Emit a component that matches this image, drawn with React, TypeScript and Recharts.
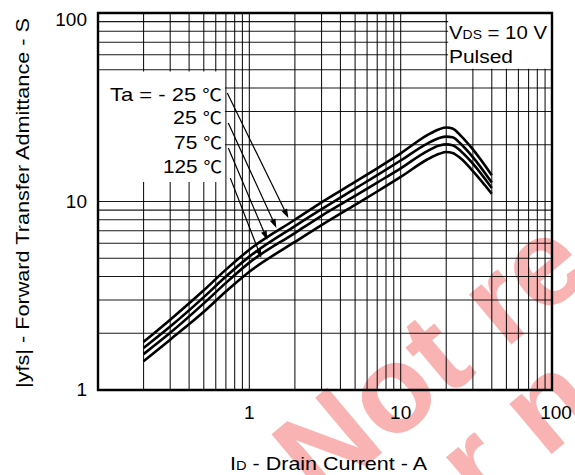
import React from 'react';
import {
  LineChart,
  Line,
  XAxis,
  YAxis,
  CartesianGrid,
  ReferenceArea,
  ReferenceLine,
} from 'recharts';

// drain current (A) sample points
const currentA = [0.2, 0.3, 0.5, 0.7, 1, 2, 3, 5, 7, 10, 15, 18, 20, 22, 25, 30, 40];

// |yfs| (S) per ambient temperature
const yfsM25 = [1.8, 2.36, 3.38, 4.35, 5.55, 8.0, 9.9, 12.7, 15.0, 18.0, 22.5, 24.2, 24.7, 24.4, 22.3, 18.9, 13.8];
const yfs25 = [1.67, 2.17, 3.11, 4.0, 5.1, 7.4, 9.1, 11.7, 13.8, 16.5, 20.3, 21.7, 22.1, 21.9, 20.2, 17.2, 12.6];
const yfs75 = [1.55, 2.01, 2.88, 3.7, 4.74, 6.8, 8.4, 10.7, 12.6, 15.0, 18.5, 19.8, 20.1, 19.9, 18.5, 15.9, 11.8];
const yfs125 = [1.42, 1.85, 2.6, 3.33, 4.24, 6.1, 7.5, 9.6, 11.3, 13.5, 16.7, 17.9, 18.3, 18.1, 16.9, 14.5, 11.0];

const xTicks = [
  0.1, 0.2, 0.3, 0.4, 0.5, 0.6, 0.7, 0.8, 0.9,
  1, 2, 3, 4, 5, 6, 7, 8, 9,
  10, 20, 30, 40, 50, 60, 70, 80, 90, 100,
];
const yTicks = [
  1, 2, 3, 4, 5, 6, 7, 8, 9,
  10, 20, 30, 40, 50, 60, 70, 80, 90, 100,
];
const xLabelTicks = [1, 10, 100];
const yLabelTicks = [1, 10, 100];

const tempLabels = ['Ta = - 25', '25', '75', '125'];

// leader arrows, [current, |yfs|] from the label to the curve
const arrowFrom = [[0.715, 37.6], [0.726, 26.1], [0.726, 19.2], [0.749, 13.3]];
const arrowTo = [[1.81, 8.18], [1.51, 7.23], [1.316, 6.25], [1.2, 5.02]];

const data = currentA.map((id, i) => ({
  id,
  m25: yfsM25[i],
  t25: yfs25[i],
  t75: yfs75[i],
  t125: yfs125[i],
}));

const FONT = '"Liberation Sans", Arial, Helvetica, sans-serif';
const CJK = '"Noto Sans CJK JP", "DejaVu Sans", sans-serif';

function XTick({ x, y, payload }: any) {
  if (!xLabelTicks.includes(payload.value)) return null;
  const dx = payload.value === 100 ? 4 : 0;
  return (
    <text x={x + dx} y={y + 29} textAnchor="middle" fontSize={19} fontFamily={FONT} fill="#000">
      {payload.value}
    </text>
  );
}

function YTick({ x, y, payload }: any) {
  if (!yLabelTicks.includes(payload.value)) return null;
  const dy = payload.value === 100 ? 13 : 6;
  return (
    <text x={x - 11} y={y + dy} textAnchor="end" fontSize={19} fontFamily={FONT} fill="#000">
      {payload.value}
    </text>
  );
}

function Arrow(props: any) {
  const { x1, y1, x2, y2 } = props;
  const a = Math.atan2(y2 - y1, x2 - x1);
  const len = 9;
  const w = 3;
  const bx = x2 - len * Math.cos(a);
  const by = y2 - len * Math.sin(a);
  const px = -Math.sin(a) * w;
  const py = Math.cos(a) * w;
  return (
    <g>
      <line x1={x1} y1={y1} x2={bx} y2={by} stroke="#000" strokeWidth={1.2} />
      <polygon points={`${x2},${y2} ${bx + px},${by + py} ${bx - px},${by - py}`} fill="#000" />
    </g>
  );
}

export default function App() {
  const series = ['m25', 't25', 't75', 't125'];
  const labelY = [101, 124, 149, 173];
  const labelW = [112, 49, 48, 59];
  return (
    <div style={{ position: 'absolute', left: 0, top: 0, width: 575, height: 475, background: '#fff', overflow: 'hidden' }}>
      {/* watermark, sits under the chart */}
      <svg width={575} height={475} style={{ position: 'absolute', left: 0, top: 0 }}>
        <g fill="#f9b3b3" fontFamily={FONT} fontWeight="bold" fontSize={124}>
          <text transform="translate(320,505) rotate(-40)">Not re</text>
          <text transform="translate(392,588) rotate(-40)">for new</text>
        </g>
      </svg>
      <div style={{ position: 'absolute', left: 0, top: 0 }}>
        <LineChart width={575} height={475} data={data} margin={{ top: 13, right: 23, bottom: 55, left: 0 }}>
          <CartesianGrid stroke="#000" strokeWidth={1.1} strokeOpacity={0.9} />
          <XAxis
            dataKey="id"
            type="number"
            scale="log"
            domain={[0.1, 100]}
            ticks={xTicks}
            interval={0}
            height={30}
            axisLine={false}
            tickLine={false}
            tickSize={0}
            tickMargin={0}
            tick={<XTick />}
          />
          <YAxis
            type="number"
            scale="log"
            domain={[1, 100]}
            ticks={yTicks}
            interval={0}
            width={98}
            axisLine={false}
            tickLine={false}
            tickSize={0}
            tickMargin={0}
            tick={<YTick />}
          />
          <ReferenceArea x1={0.1} x2={0.69} y1={12.7} y2={49} fill="#fff" fillOpacity={1} stroke="none" />
          <ReferenceArea x1={20.6} x2={100} y1={50.6} y2={100} fill="#fff" fillOpacity={1} stroke="none" />
          <ReferenceArea x1={0.1} x2={100} y1={1} y2={100} fill="none" stroke="#000" strokeWidth={2.4} />
          {series.map((k) => (
            <Line
              key={k}
              dataKey={k}
              type="monotone"
              stroke="#000"
              strokeWidth={2.6}
              dot={false}
              activeDot={false}
              isAnimationActive={false}
            />
          ))}
          {arrowFrom.map((f, i) => (
            <ReferenceLine
              key={i}
              segment={[
                { x: f[0], y: f[1] },
                { x: arrowTo[i][0], y: arrowTo[i][1] },
              ]}
              shape={<Arrow />}
            />
          ))}
        </LineChart>
      </div>
      <svg width={575} height={475} style={{ position: 'absolute', left: 0, top: 0, pointerEvents: 'none' }}>
        <g fontFamily={FONT} fill="#000" fontSize={19}>
          {tempLabels.map((t, i) => (
            <text
              key={t}
              x={222}
              y={labelY[i]}
              textAnchor="end"
              textLength={labelW[i]}
              lengthAdjust="spacingAndGlyphs"
            >
              {t + ' '}
              <tspan fontFamily={CJK} fontSize={17}>℃</tspan>
            </text>
          ))}
          <text x={449} y={39} textLength={98} lengthAdjust="spacingAndGlyphs">
            V<tspan fontSize={13}>DS</tspan> = 10 V
          </text>
          <text x={449} y={63} textLength={64} lengthAdjust="spacingAndGlyphs">Pulsed</text>
          <text x={230} y={470} textLength={197} lengthAdjust="spacingAndGlyphs">
            I<tspan fontSize={13}>D</tspan> - Drain Current - A
          </text>
          <text
            transform="translate(29,203) rotate(-90)"
            textAnchor="middle"
            textLength={370}
            lengthAdjust="spacingAndGlyphs"
          >
            |yfs| - Forward Transfer Admittance - S
          </text>
        </g>
      </svg>
    </div>
  );
}
